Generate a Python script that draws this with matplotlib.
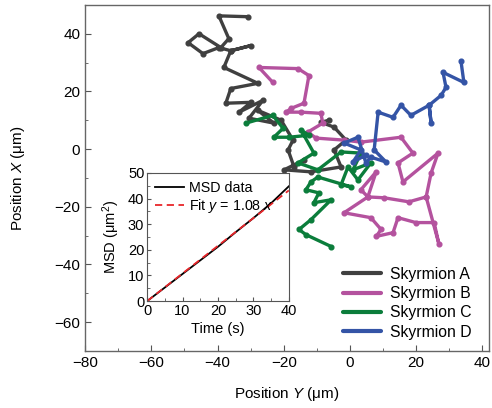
"""Skyrmion trajectories with MSD inset."""

import matplotlib
matplotlib.use("Agg")
import matplotlib.pyplot as plt
from matplotlib.ticker import MultipleLocator

plt.rcParams["font.family"] = ["Liberation Sans", "DejaVu Sans"]
plt.rcParams["mathtext.fontset"] = "custom"
plt.rcParams["mathtext.rm"] = "Liberation Sans"
plt.rcParams["mathtext.it"] = "Liberation Sans:italic"

# trajectories, (Y, X) positions in um
a_y = [-30.8, -39.6, -36.6, -39.0, -45.6, -48.9, -44.4, -39.6, -36.0, -29.9, -36.0,
       -38.1, -27.8, -36.0, -37.5, -29.9, -33.5, -26.3, -30.5, -23.0, -27.8, -20.8,
       -17.2, -18.7, -16.9, -13.9, -19.9, -11.8, -2.7, -4.8, -1.2, -4.8, -8.8, -6.3]
a_x = [45.9, 46.2, 38.3, 35.2, 40.0, 36.9, 33.1, 35.2, 34.1, 35.9, 34.1,
       28.3, 22.8, 21.0, 15.9, 16.2, 12.8, 16.9, 10.7, 9.0, 13.4, 10.0,
       3.1, -0.3, -6.2, -3.8, -7.2, -7.9, -6.2, -0.3, 3.1, 7.6, 9.3, 10.0]

b_y = [-23.3, -27.5, -15.7, -12.4, -13.9, -17.8, -19.3, -14.8, -8.8, -8.2, -12.7,
       -10.3, -1.8, 3.3, 15.4, 19.0, 14.5, 16.0, 26.6, 24.5, 23.0, 17.8, 10.3, 5.4,
       3.3, 7.9, 5.4, -1.8, 6.3, 9.4, 7.9, 13.0, 14.5, 19.9, 25.4, 26.9, 23.0]
b_x = [23.1, 28.3, 27.9, 25.5, 15.9, 14.1, 12.8, 12.8, 12.4, 9.0, 5.9,
       3.8, 3.1, 2.4, 4.1, -1.4, -4.8, -11.4, -1.4, -8.3, -16.6, -18.3, -16.9, -16.6,
       -14.1, -7.9, -16.6, -22.1, -23.8, -27.9, -30.3, -29.0, -23.8, -25.5, -25.5, -33.1, -16.6]

c_y = [-31.4, -23.3, -20.2, -23.0, -18.4, -12.4, -14.8, -10.9, -15.7, -9.7, -2.7,
       3.3, 0.9, 6.3, 2.4, -0.6, -2.7, 0.3, -9.7, -11.8, -13.3, -9.4, -10.9, -5.7,
       -11.8, -15.4, -13.3, -5.7]
c_x = [9.0, 11.7, 7.2, 4.1, 4.1, 4.8, 6.6, -1.4, -4.8, -7.2, -1.0,
       -1.4, -7.2, -4.8, -10.7, -6.2, -12.4, -13.1, -9.7, -11.4, -14.1, -15.2, -18.6, -17.6,
       -24.5, -27.9, -29.7, -33.8]

d_y = [33.5, 34.4, 28.1, 29.0, 27.5, 23.9, 24.5, 23.9, 18.4, 15.4, 13.0, 8.5,
       7.3, 10.9, 6.3, 4.8, 2.4, -1.8, 3.3, 0.9, 4.8]
d_x = [30.7, 23.1, 26.6, 21.4, 18.6, 15.2, 9.0, 15.2, 11.7, 15.2, 11.0, 12.8,
       -0.3, -4.5, -2.8, -4.8, 4.1, 2.1, -0.3, -4.5, -2.1]

labels = ["Skyrmion A", "Skyrmion B", "Skyrmion C", "Skyrmion D"]
colors = ["#404040", "#b4529e", "#0b7d3b", "#3454a6"]

# inset MSD
time_s = [0, 5, 10, 15, 20, 25, 30, 35, 40]
msd = [0, 5.3, 10.6, 15.9, 21.2, 26.9, 32.4, 38.2, 44.8]
fit_slope = 1.08

fig = plt.figure(figsize=(4.92, 4.08), dpi=100)
ax = fig.add_axes([0.173, 0.140, 0.821, 0.848])

tracks = [(a_y, a_x), (b_y, b_x), (c_y, c_x), (d_y, d_x)]
for (ys, xs), lab, col in zip(tracks, labels, colors):
    ax.plot(ys, xs, color=col, lw=2.4, marker="o", ms=3.4,
            solid_joinstyle="round", solid_capstyle="round", label=lab)

ax.set_xlim(-80, 42)
ax.set_ylim(-70, 50)
ax.xaxis.set_major_locator(MultipleLocator(20))
ax.xaxis.set_minor_locator(MultipleLocator(10))
ax.yaxis.set_major_locator(MultipleLocator(20))
ax.yaxis.set_minor_locator(MultipleLocator(10))
ax.tick_params(which="both", direction="in", labelsize=11, color="#555555")
ax.tick_params(which="major", length=4)
ax.tick_params(which="minor", length=2.5)
for sp in ax.spines.values():
    sp.set_color("#666666")
    sp.set_linewidth(1.0)
ax.set_xlabel("Position $Y$ (\u03bcm)", fontsize=11, labelpad=11)
ax.set_ylabel("Position $X$ (\u03bcm)", fontsize=11, labelpad=20)

leg = ax.legend(loc="lower right", bbox_to_anchor=(0.985, 0.0), frameon=False,
                fontsize=11.3, handlelength=2.4, handletextpad=0.6,
                labelspacing=0.28, borderaxespad=0.3)
for h in leg.get_lines():
    h.set_linewidth(3)
    h.set_marker("")

ins = fig.add_axes([0.299, 0.262, 0.288, 0.314])
ins.plot(time_s, msd, color="black", lw=1.3, label="MSD data")
ins.plot(time_s, [fit_slope * t for t in time_s], color="#e8262a", lw=1.3,
         ls=(0, (4, 2.5)), label="Fit $y$ = 1.08 $x$")
ins.set_xlim(0, 40)
ins.set_ylim(0, 50)
ins.xaxis.set_major_locator(MultipleLocator(10))
ins.xaxis.set_minor_locator(MultipleLocator(5))
ins.yaxis.set_major_locator(MultipleLocator(10))
ins.yaxis.set_minor_locator(MultipleLocator(5))
ins.tick_params(which="both", direction="in", labelsize=10.5, pad=2, color="#555555")
ins.tick_params(which="major", length=3)
ins.tick_params(which="minor", length=2)
for sp in ins.spines.values():
    sp.set_color("#555555")
ins.set_xlabel("Time (s)", fontsize=10.5, labelpad=3)
ins.set_ylabel("MSD (\u03bcm$^2$)", fontsize=10.5, labelpad=4)
ins.legend(loc="upper left", frameon=False, fontsize=10.3, handlelength=2.0,
           handletextpad=0.4, labelspacing=0.15, borderaxespad=0.2,
           borderpad=0.35)

fig.savefig("out.png", dpi=100)
